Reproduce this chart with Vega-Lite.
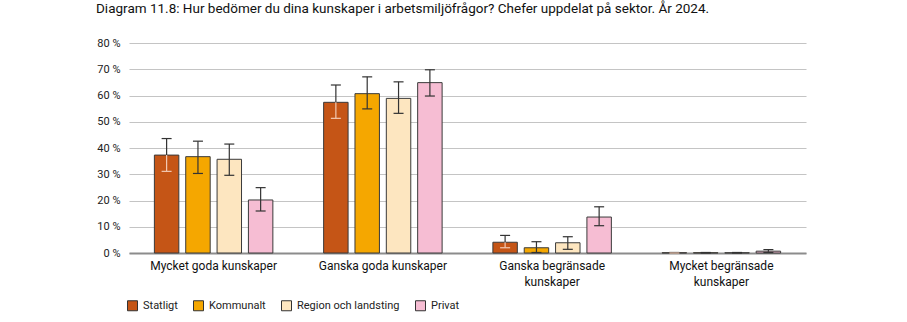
{
  "$schema": "https://vega.github.io/schema/vega-lite/v6.json",
  "width": 677,
  "height": 210,
  "autosize": {"type": "none"},
  "padding": {"left": 129, "top": 43, "right": 101, "bottom": 69},
  "background": "white",
  "title": {
    "text": "Diagram 11.8: Hur bedömer du dina kunskaper i arbetsmiljöfrågor? Chefer uppdelat på sektor. År 2024.",
    "anchor": "start",
    "frame": "group",
    "dx": -33,
    "offset": 22,
    "font": "Roboto",
    "fontSize": 13.5,
    "fontWeight": "normal",
    "color": "#111111"
  },
  "config": {
    "view": {"stroke": null},
    "font": "Roboto",
    "axis": {"labelFont": "Roboto", "labelColor": "#222222"},
    "axisY": {
      "title": null,
      "values": [0, 10, 20, 30, 40, 50, 60, 70, 80],
      "labelExpr": "datum.value + ' %'",
      "labelFontSize": 11,
      "labelPadding": 9,
      "labelOverlap": false,
      "ticks": false,
      "domain": false,
      "gridColor": "#c4c4c4",
      "gridWidth": 1.2
    },
    "legend": {"labelFont": "Roboto"}
  },
  "data": {
    "values": [
      {"cat": "Mycket goda kunskaper", "sector": "Statligt", "v": 37.3, "lo": 31.1, "hi": 43.6},
      {"cat": "Mycket goda kunskaper", "sector": "Kommunalt", "v": 36.7, "lo": 30.3, "hi": 42.6},
      {"cat": "Mycket goda kunskaper", "sector": "Region och landsting", "v": 35.7, "lo": 29.6, "hi": 41.5},
      {"cat": "Mycket goda kunskaper", "sector": "Privat", "v": 20.2, "lo": 16.0, "hi": 24.9},
      {"cat": "Ganska goda kunskaper", "sector": "Statligt", "v": 57.4, "lo": 51.3, "hi": 64.0},
      {"cat": "Ganska goda kunskaper", "sector": "Kommunalt", "v": 60.7, "lo": 54.9, "hi": 67.1},
      {"cat": "Ganska goda kunskaper", "sector": "Region och landsting", "v": 58.9, "lo": 53.2, "hi": 65.2},
      {"cat": "Ganska goda kunskaper", "sector": "Privat", "v": 64.9, "lo": 59.8, "hi": 69.8},
      {"cat": "Ganska begränsade kunskaper", "sector": "Statligt", "v": 4.1, "lo": 2.0, "hi": 6.7},
      {"cat": "Ganska begränsade kunskaper", "sector": "Kommunalt", "v": 2.0, "lo": 0.2, "hi": 4.3},
      {"cat": "Ganska begränsade kunskaper", "sector": "Region och landsting", "v": 3.9, "lo": 1.4, "hi": 6.2},
      {"cat": "Ganska begränsade kunskaper", "sector": "Privat", "v": 13.7, "lo": 10.4, "hi": 17.6},
      {"cat": "Mycket begränsade kunskaper", "sector": "Statligt", "v": 0.1, "lo": 0.0, "hi": 0.2},
      {"cat": "Mycket begränsade kunskaper", "sector": "Kommunalt", "v": 0.1, "lo": 0.0, "hi": 0.2},
      {"cat": "Mycket begränsade kunskaper", "sector": "Region och landsting", "v": 0.1, "lo": 0.0, "hi": 0.2},
      {"cat": "Mycket begränsade kunskaper", "sector": "Privat", "v": 0.7, "lo": 0.2, "hi": 1.3}
    ]
  },
  "encoding": {
    "x": {
      "field": "cat",
      "type": "nominal",
      "sort": ["Mycket goda kunskaper", "Ganska goda kunskaper", "Ganska begränsade kunskaper", "Mycket begränsade kunskaper"],
      "scale": {"paddingInner": 0.3, "paddingOuter": 0.15},
      "axis": {
        "title": null,
        "labelAngle": 0,
        "labelFontSize": 12,
        "labelColor": "#111111",
        "labelPadding": 7,
        "ticks": false,
        "domainColor": "#8c8c8c",
        "domainWidth": 2,
        "labelLineHeight": 16,
        "labelExpr": "datum.label == 'Ganska begränsade kunskaper' ? ['Ganska begränsade', 'kunskaper'] : datum.label == 'Mycket begränsade kunskaper' ? ['Mycket begränsade', 'kunskaper'] : datum.label"
      }
    },
    "xOffset": {
      "field": "sector",
      "type": "nominal",
      "sort": ["Statligt", "Kommunalt", "Region och landsting", "Privat"],
      "scale": {"paddingInner": 0.22, "paddingOuter": 0}
    }
  },
  "layer": [
    {
      "mark": {"type": "bar", "stroke": "#3a3a3a", "strokeWidth": 1},
      "encoding": {
        "y": {
          "field": "v",
          "type": "quantitative",
          "title": null,
          "scale": {"domain": [0, 80], "nice": false}
        },
        "color": {
          "field": "sector",
          "type": "nominal",
          "sort": ["Statligt", "Kommunalt", "Region och landsting", "Privat"],
          "scale": {
            "domain": ["Statligt", "Kommunalt", "Region och landsting", "Privat"],
            "range": ["#c55516", "#f5a700", "#fde6c0", "#f6bdd3"]
          },
          "legend": {
            "title": null,
            "orient": "none",
            "legendX": -2,
            "legendY": 257,
            "direction": "horizontal",
            "symbolType": "square",
            "symbolSize": 100,
            "symbolStrokeColor": "#333333",
            "symbolStrokeWidth": 1,
            "labelFontSize": 11,
            "labelColor": "#222222",
            "columnPadding": 13,
            "labelOffset": 5
          }
        }
      }
    },
    {
      "mark": {"type": "rule", "color": "#333333", "strokeWidth": 1.2},
      "encoding": {
        "y": {"field": "v", "type": "quantitative", "title": null},
        "y2": {"field": "hi"}
      }
    },
    {
      "mark": {"type": "rule", "strokeWidth": 1.2},
      "encoding": {
        "y": {"field": "lo", "type": "quantitative", "title": null},
        "y2": {"field": "v"},
        "color": {
          "condition": {"test": "datum.sector == 'Statligt'", "value": "#f2c9b3"},
          "value": "#333333"
        }
      }
    },
    {
      "mark": {"type": "tick", "color": "#333333", "size": 10, "thickness": 1.2, "opacity": 1},
      "encoding": {
        "y": {"field": "hi", "type": "quantitative", "title": null}
      }
    },
    {
      "mark": {"type": "tick", "size": 10, "thickness": 1.2, "opacity": 1},
      "encoding": {
        "y": {"field": "lo", "type": "quantitative", "title": null},
        "color": {
          "condition": {"test": "datum.sector == 'Statligt'", "value": "#f2c9b3"},
          "value": "#333333"
        }
      }
    }
  ]
}
